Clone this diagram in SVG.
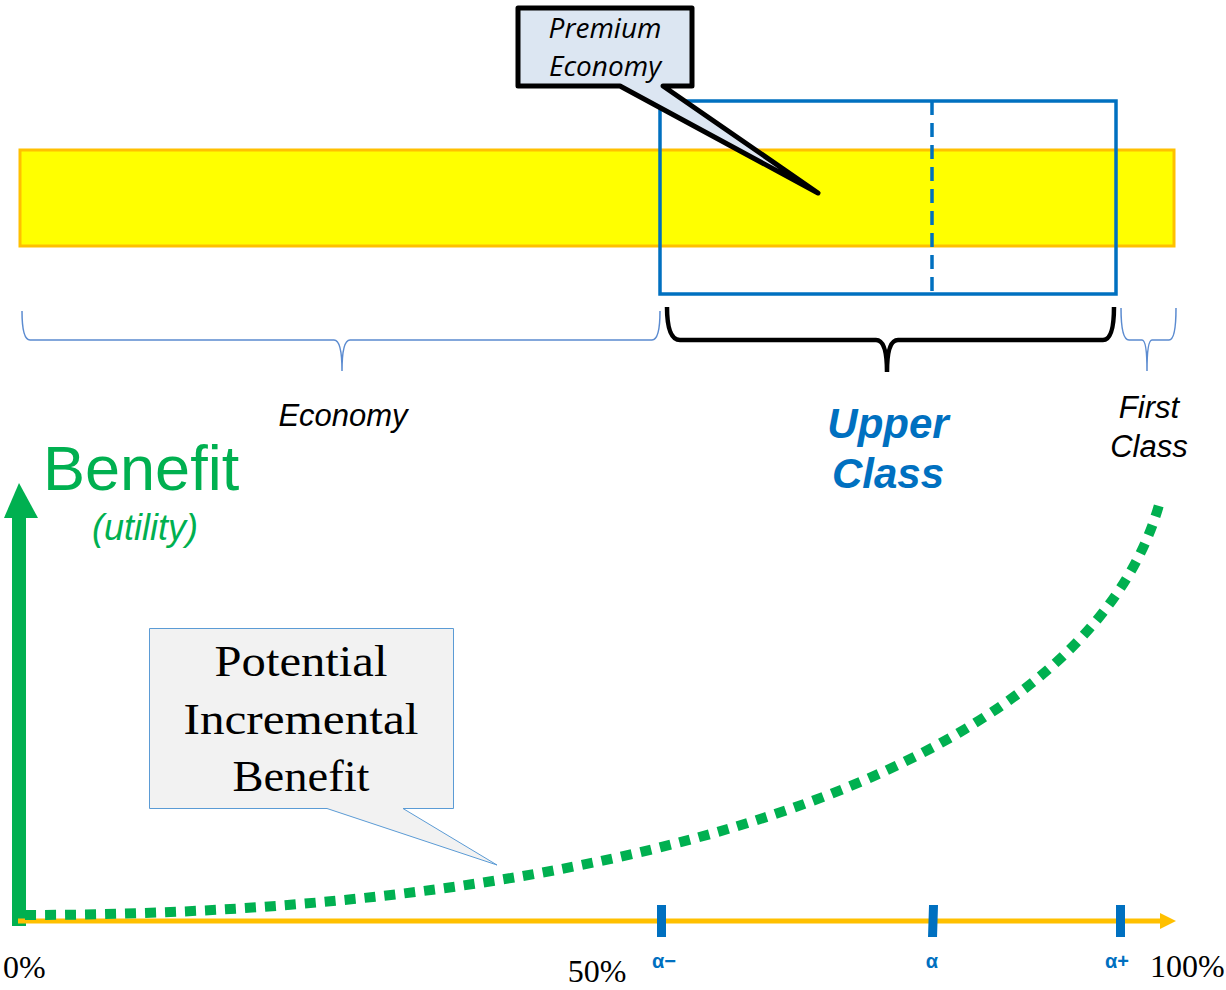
<svg xmlns="http://www.w3.org/2000/svg" width="1226" height="990" viewBox="0 0 1226 990">
<style>
.ital{font-family:"Liberation Sans",Arial,sans-serif;font-style:italic;fill:#000}
.cal{font-family:"Open Sans","Liberation Sans",sans-serif;font-style:italic;fill:#000}
.ser{font-family:"Liberation Serif","Times New Roman",serif;fill:#000}
.alpha{font-family:"Liberation Sans",Arial,sans-serif;font-weight:bold;fill:#0070C0;font-size:20px;text-anchor:middle}
.tick{fill:#0070C0}
.thinbrace{fill:none;stroke:#5B8BD0;stroke-width:1.5}
.upper{font-family:"Liberation Sans",Arial,sans-serif;font-weight:bold;font-style:italic;font-size:42px;fill:#0070C0;text-anchor:middle}
</style>
<rect width="1226" height="990" fill="#fff"/>

<g id="bar">
<rect x="20" y="150" width="1154" height="96" fill="#FFFF00" stroke="#FFC000" stroke-width="3"/>
</g>

<g id="upper-box">
<rect x="660" y="101" width="456" height="193" fill="none" stroke="#0070C0" stroke-width="3.5"/>
<line x1="932" y1="101" x2="932" y2="294" stroke="#0070C0" stroke-width="3.5" stroke-dasharray="14,8"/>
</g>

<g id="premium-callout">
<path d="M518,8 H692 V86 H663 L818,193 L620,86 H518 Z" fill="#DCE6F2" stroke="#000" stroke-width="5" stroke-linejoin="round"/>
<text class="cal" x="605" y="38" font-size="28" text-anchor="middle">Premium</text>
<text class="cal" x="605" y="76" font-size="28" text-anchor="middle">Economy</text>
</g>

<g id="economy-brace">
<path class="thinbrace" d="M22,311 Q22,340 30,340 H334 Q342,340 342,371 Q342,340 350,340 H652 Q660,340 660,311"/>
<text class="ital" x="343" y="426" font-size="31" text-anchor="middle">Economy</text>
</g>

<g id="upper-brace">
<path d="M667,307 Q667,340 680,340 H876 Q887,340 887,372 Q887,340 898,340 H1103 Q1114,340 1114,307" fill="none" stroke="#000" stroke-width="4.5"/>
<text class="upper" x="888" y="438">Upper</text>
<text class="upper" x="888" y="488">Class</text>
</g>

<g id="first-brace">
<path class="thinbrace" d="M1121,308 Q1121,340 1129,340 H1142 Q1147,340 1147,371 Q1147,340 1152,340 H1169 Q1176,340 1176,308"/>
<text class="ital" x="1149" y="418" font-size="31" text-anchor="middle">First</text>
<text class="ital" x="1149" y="457" font-size="31" text-anchor="middle">Class</text>
</g>

<g id="benefit-axis">
<rect x="12" y="516" width="14" height="410" fill="#00B050"/>
<polygon points="19,483 38,518 4,518" fill="#00B050"/>
<text x="43" y="490" font-family="Liberation Sans,Arial,sans-serif" font-size="63" fill="#00B050">Benefit</text>
<text x="145" y="540" font-family="Liberation Sans,Arial,sans-serif" font-style="italic" font-size="36" fill="#00B050" text-anchor="middle">(utility)</text>
</g>

<g id="x-axis">
<line x1="18" y1="921" x2="1162" y2="921" stroke="#FFC000" stroke-width="5"/>
<polygon points="1160,913 1176,921 1160,929" fill="#FFC000"/>
<rect class="tick" x="657" y="905" width="9" height="32"/>
<polygon class="tick" points="929,905 938,905 937,937 928,937"/>
<rect class="tick" x="1116" y="905" width="9" height="32"/>
<text class="alpha" x="664" y="968">α−</text>
<text class="alpha" x="932" y="968">α</text>
<text class="alpha" x="1117" y="968">α+</text>
<text class="ser" x="3" y="978" font-size="32">0%</text>
<text class="ser" x="597" y="982" font-size="32" text-anchor="middle">50%</text>
<text class="ser" x="1150" y="977" font-size="32">100%</text>
</g>

<g id="connectors">
<path d="M25,915 C600,915 1080,780 1159,505" fill="none" stroke="#00B050" stroke-width="10" stroke-dasharray="11,9"/>
</g>

<g id="potential-callout">
<path d="M149.5,628.5 H453.5 V808.5 H403 L497,865 L327,808.5 H149.5 Z" fill="#F2F2F2" stroke="#5B9BD5" stroke-width="1"/>
<text class="ser" x="301" y="676" font-size="44" text-anchor="middle" textLength="173" lengthAdjust="spacingAndGlyphs">Potential</text>
<text class="ser" x="301" y="734" font-size="44" text-anchor="middle" textLength="235" lengthAdjust="spacingAndGlyphs">Incremental</text>
<text class="ser" x="301" y="791" font-size="44" text-anchor="middle" textLength="137" lengthAdjust="spacingAndGlyphs">Benefit</text>
</g>
</svg>
